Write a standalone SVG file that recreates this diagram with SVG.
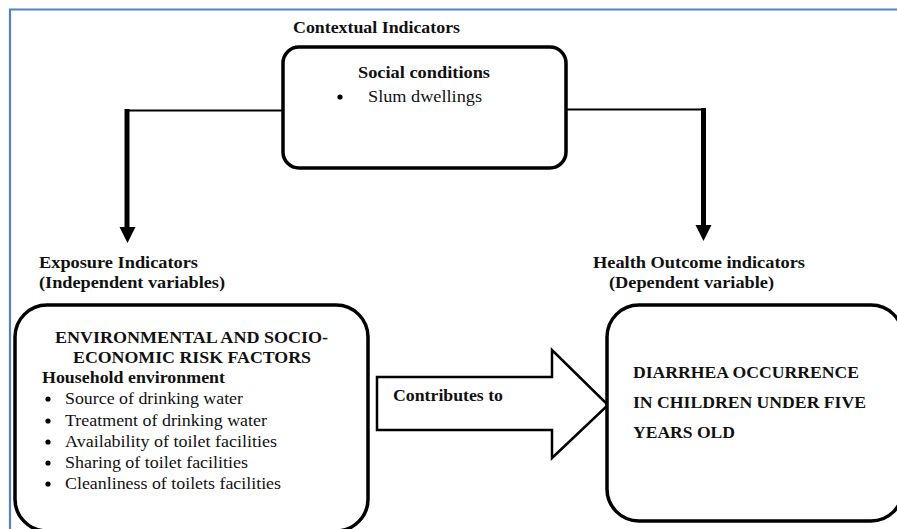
<svg xmlns="http://www.w3.org/2000/svg" width="897" height="529" viewBox="0 0 897 529">
<defs>
<style>
text{font-family:"Liberation Serif","Times New Roman",serif;fill:#111;font-size:16px}
.b{font-weight:bold}
.box{fill:#fff;stroke:#000;stroke-width:3.5}
.thin{fill:none;stroke:#000;stroke-width:2}
.shaft{fill:none;stroke:#000;stroke-width:5}
.frame{fill:none;stroke:#5583c2;stroke-width:2.2}
</style>
</defs>
<rect width="897" height="529" fill="#fff"/>
<path class="frame" d="M10,529 V9.5 H897"/>

<g id="connectors">
<path class="thin" d="M283,110.5 H127"/>
<path class="shaft" d="M127,109 V229"/>
<polygon points="119.5,227 135.5,227 127.5,243" fill="#000"/>
<path class="thin" d="M566,109.5 H704"/>
<path class="shaft" d="M703.5,108 V227"/>
<polygon points="695.5,225 711.5,225 703.5,241" fill="#000"/>
<g id="contributes">
<polygon points="377,377 552,377 552,350 608,405 552,458 552,430 377,430" fill="#fff" stroke="#000" stroke-width="2.5"/>
<text class="b" x="393" y="401" textLength="110" lengthAdjust="spacingAndGlyphs">Contributes to</text>
</g>
</g>

<g id="contextual">
<text class="b" x="293" y="33" textLength="167" lengthAdjust="spacingAndGlyphs">Contextual Indicators</text>
<rect class="box" x="283" y="47" width="283" height="121" rx="16"/>
<text class="b" x="358" y="78" textLength="132" lengthAdjust="spacingAndGlyphs">Social conditions</text>
<circle cx="340" cy="97" r="2.6" fill="#000"/>
<text x="368" y="102" textLength="114" lengthAdjust="spacingAndGlyphs">Slum dwellings</text>
</g>

<g id="exposure">
<text class="b" x="39" y="268" textLength="159" lengthAdjust="spacingAndGlyphs">Exposure Indicators</text>
<text class="b" x="39" y="288" textLength="186" lengthAdjust="spacingAndGlyphs">(Independent variables)</text>
<rect class="box" x="15" y="305" width="353" height="226" rx="32"/>
<text class="b" x="55" y="343" textLength="273" lengthAdjust="spacingAndGlyphs">ENVIRONMENTAL AND SOCIO-</text>
<text class="b" x="73" y="363" textLength="238" lengthAdjust="spacingAndGlyphs">ECONOMIC RISK FACTORS</text>
<text class="b" x="42" y="383" textLength="183" lengthAdjust="spacingAndGlyphs">Household environment</text>
<circle cx="48" cy="399" r="2.6" fill="#000"/>
<text x="65" y="404" textLength="178" lengthAdjust="spacingAndGlyphs">Source of drinking water</text>
<circle cx="48" cy="421" r="2.6" fill="#000"/>
<text x="65" y="426" textLength="202" lengthAdjust="spacingAndGlyphs">Treatment of drinking water</text>
<circle cx="48" cy="442" r="2.6" fill="#000"/>
<text x="65" y="447" textLength="212" lengthAdjust="spacingAndGlyphs">Availability of toilet facilities</text>
<circle cx="48" cy="463" r="2.6" fill="#000"/>
<text x="65" y="468" textLength="183" lengthAdjust="spacingAndGlyphs">Sharing of toilet facilities</text>
<circle cx="48" cy="484" r="2.6" fill="#000"/>
<text x="65" y="489" textLength="216" lengthAdjust="spacingAndGlyphs">Cleanliness of toilets facilities</text>
</g>

<g id="outcome">
<text class="b" x="593" y="268" textLength="212" lengthAdjust="spacingAndGlyphs">Health Outcome indicators</text>
<text class="b" x="609" y="288" textLength="165" lengthAdjust="spacingAndGlyphs">(Dependent variable)</text>
<rect class="box" x="607" y="305" width="296" height="216" rx="32"/>
<text class="b" x="633" y="378" textLength="226" lengthAdjust="spacingAndGlyphs">DIARRHEA OCCURRENCE</text>
<text class="b" x="633" y="408" textLength="233" lengthAdjust="spacingAndGlyphs">IN CHILDREN UNDER FIVE</text>
<text class="b" x="633" y="438" textLength="102" lengthAdjust="spacingAndGlyphs">YEARS OLD</text>
</g>
</svg>
